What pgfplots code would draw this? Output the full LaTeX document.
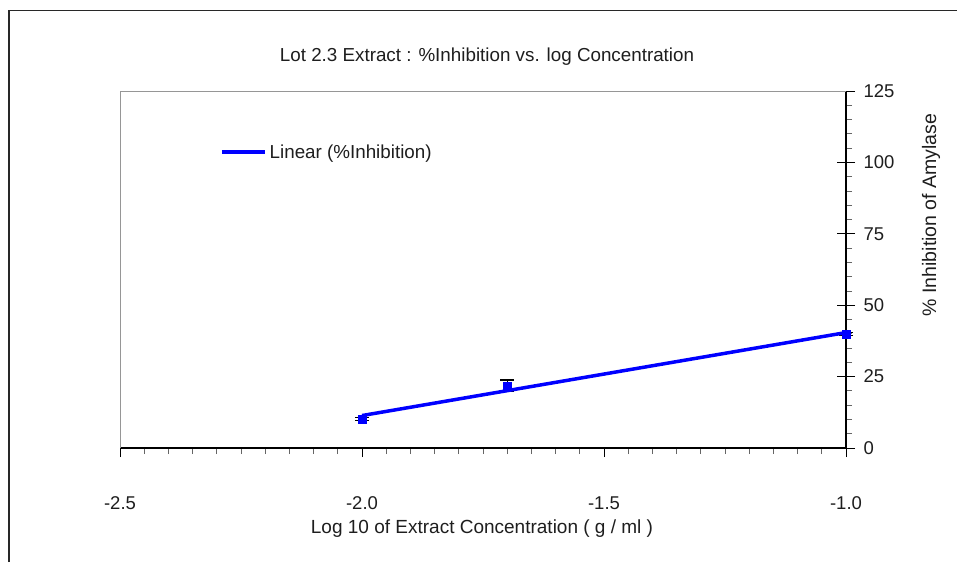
\documentclass[border=0pt]{standalone}
\usepackage{fontspec}
\setmainfont{Liberation Sans}
\usepackage{pgfplots}
\pgfplotsset{compat=1.18}

\definecolor{seriesblue}{RGB}{0,0,255}
\definecolor{frameline}{RGB}{40,40,40}
\definecolor{boxgray}{RGB}{150,150,150}
\definecolor{textgray}{RGB}{30,30,30}

\begin{document}
\begin{tikzpicture}[text=textgray]
  % page area and outer frame
  \useasboundingbox (0pt,0pt) rectangle (957pt,562pt);
  \draw[frameline, line width=1.6pt] (9pt,0pt) -- (9pt,551.5pt) -- (957pt,551.5pt);

  % title and axis labels
  \node[font=\fontsize{18.8}{22}\selectfont] at (487pt,505pt) {Lot 2.3 Extract : \%Inhibition vs. log Concentration};
  \node[font=\fontsize{19}{22}\selectfont] at (482pt,33pt) {Log 10 of Extract Concentration ( g / ml )};
  \node[font=\fontsize{19.5}{22}\selectfont, rotate=90] at (931pt,347pt) {\% Inhibition of Amylase};

  \begin{axis}[
    at={(120pt,114pt)}, anchor=south west,
    scale only axis,
    width=726pt, height=357pt,
    xmin=-2.5, xmax=-1.0,
    ymin=0, ymax=125,
    axis x line*=bottom,
    axis y line*=right,
    axis line style={black, line width=1.3pt},
    xtick={-2.5,-2.0,-1.5,-1.0},
    xticklabels={-2.5,-2.0,-1.5,-1.0},
    minor x tick num=9,
    ytick={0,25,50,75,100,125},
    minor y tick num=4,
    tick align=outside,
    major tick length=9pt,
    minor tick length=6pt,
    tick style={black, line width=0.9pt},
    minor tick style={gray!80!black, line width=0.8pt},
    extra y ticks={0,25,50,75,100,125},
    extra y tick labels={},
    extra y tick style={tick align=inside, major tick length=9pt},
    /pgf/number format/assume math mode=true,
    tick label style={font=\fontsize{18.5}{21}\selectfont, text=textgray},
    xticklabel style={yshift=-36pt},
    yticklabel style={anchor=west, xshift=5pt},
    legend style={draw=none, fill=none, at={(rel axis cs:0.1377,0.829)}, anchor=west,
                  inner sep=0pt, font=\fontsize{18.8}{22}\selectfont, text=textgray,
                  nodes={inner sep=3pt}},
    legend image code/.code={\draw[#1, line width=3.5pt] (0pt,0pt) -- (43pt,0pt);},
    legend cell align=left,
    clip=false,
  ]
    % thin grey edges of the plot box
    \draw[boxgray, line width=0.9pt] (rel axis cs:0,0) -- (rel axis cs:0,1) -- (rel axis cs:1,1);

    % measured inhibition with error bars
    \addplot[
      forget plot,
      only marks, mark=square*, mark size=4pt,
      mark options={seriesblue, draw=seriesblue},
      error bars/.cd, y dir=both, y explicit,
      error bar style={black, line width=1.2pt},
      error mark options={rotate=90, mark size=7pt, black, line width=1.2pt},
    ] coordinates {
      (-2.0,10.15) +- (0,0.45)
      (-1.7,21.8)  +- (0,2.0)
      (-1.0,39.9)  +- (0,0.45)
    };

    % least-squares line through the measured points
    \addplot[seriesblue, line width=3.5pt] coordinates {
      (-2.0,11.36) (-1.0,40.42)
    };
    \addlegendentry{Linear (\%Inhibition)}
  \end{axis}
\end{tikzpicture}
\end{document}
